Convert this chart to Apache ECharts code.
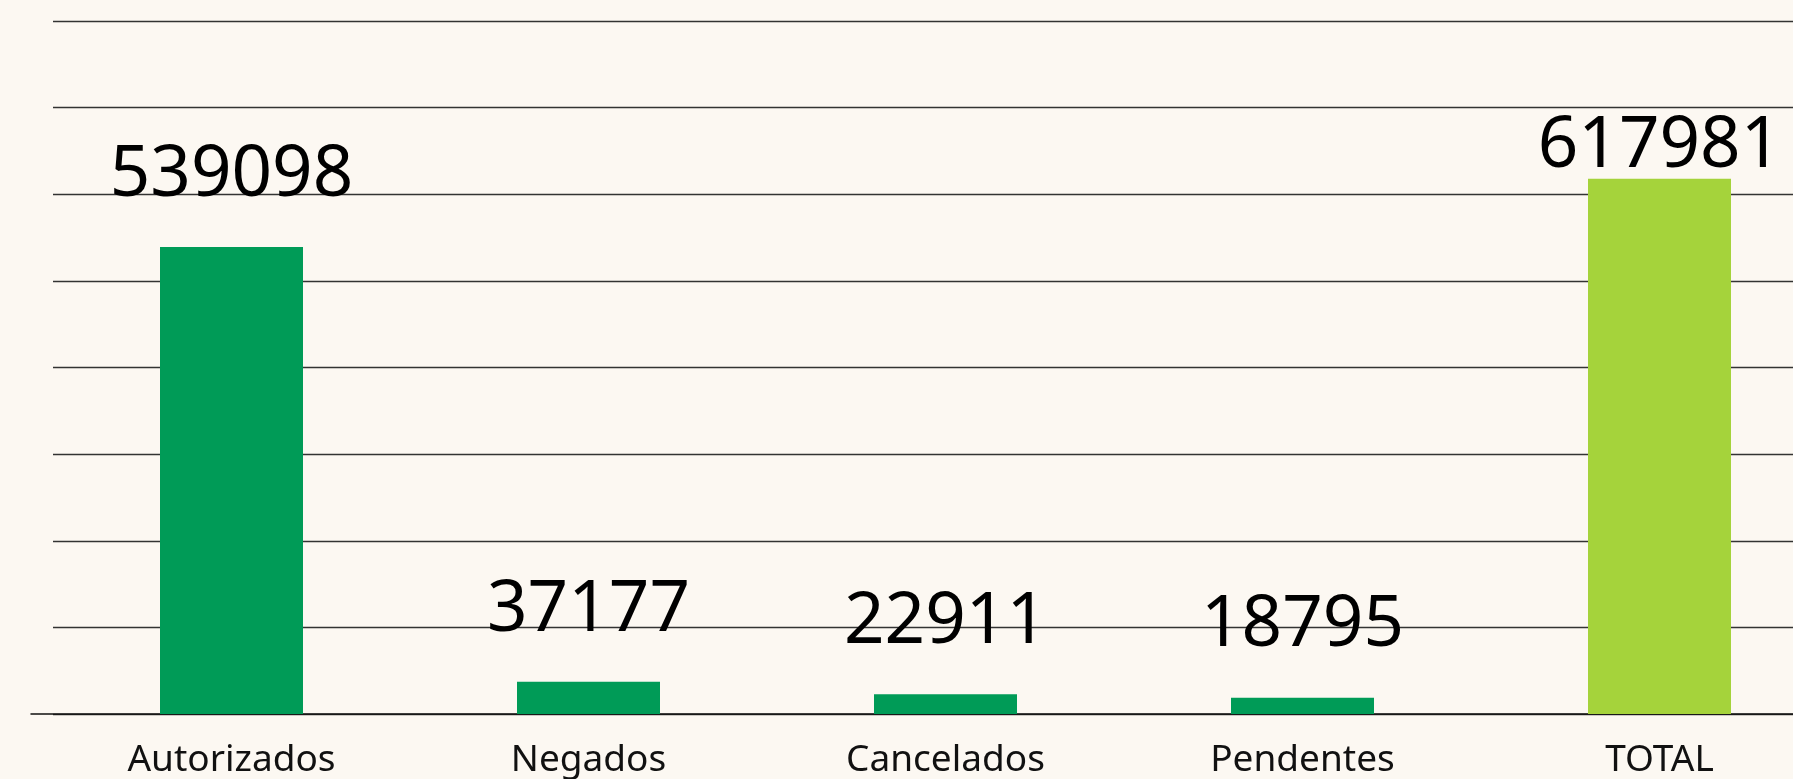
<!DOCTYPE html>
<html>
<head>
<meta charset="utf-8">
<script src="https://cdn.jsdelivr.net/npm/echarts@6/dist/echarts.min.js"></script>
<style>
  html, body { margin: 0; padding: 0; background: #fcf8f2; overflow: hidden; }
  /* o gráfico é mais largo que a janela: a última faixa fica cortada à direita */
  #chart { width: 1838px; height: 779px; }
</style>
</head>
<body>
<div id="chart"></div>
<script>
// dados do gráfico
const categorias = ['Autorizados', 'Negados', 'Cancelados', 'Pendentes', 'TOTAL']
const valores = [539098, 37177, 22911, 18795, 617981]
const cores = ['#009b57', '#009b57', '#009b57', '#009b57', '#a5d33b']

const chart = echarts.init(document.getElementById('chart'))

const option = {
  backgroundColor: '#fcf8f2',
  animation: false,
  grid: [
    { left: 53, right: 0, top: 21, bottom: 65, outerBoundsMode: 'none' },
    // só para a linha do eixo, que começa mais à esquerda
    { left: 31, right: 0, top: 21, bottom: 65, outerBoundsMode: 'none' }
  ],
  xAxis: [
    {
      type: 'category',
      gridIndex: 0,
      data: categorias,
      axisLine: { show: false },
      axisTick: { show: false },
      axisLabel: {
        margin: 28,
        fontFamily: 'Noto Sans',
        fontSize: 37,
        color: '#111'
      }
    },
    {
      type: 'category',
      gridIndex: 1,
      data: categorias,
      axisLine: { show: true, lineStyle: { color: '#111', width: 1.5 } },
      axisTick: { show: false },
      axisLabel: { show: false }
    }
  ],
  yAxis: [
    {
      type: 'value',
      gridIndex: 0,
      min: 0,
      max: 800000,
      interval: 100000,
      axisLabel: { show: false },
      axisLine: { show: false },
      axisTick: { show: false },
      splitLine: { lineStyle: { color: '#333', width: 1.3 } }
    },
    {
      type: 'value',
      gridIndex: 1,
      min: 0,
      max: 800000,
      show: false,
      splitLine: { show: false }
    }
  ],
  series: [
    {
      type: 'bar',
      xAxisIndex: 0,
      yAxisIndex: 0,
      barWidth: 143,
      z: 3,
      data: valores.map((v, i) => ({
        value: v,
        itemStyle: { color: cores[i] },
        label: i === valores.length - 1
          ? { distance: 0, offset: [0, 4] }
          : { distance: 36 }
      })),
      label: {
        show: true,
        position: 'top',
        fontFamily: 'Noto Sans',
        fontSize: 71,
        color: '#000'
      }
    }
  ]
}

chart.setOption(option)
</script>
</body>
</html>
